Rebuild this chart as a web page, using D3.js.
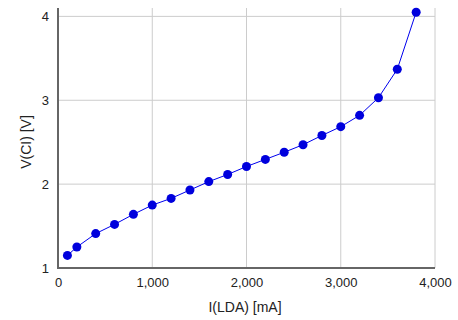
<!DOCTYPE html>
<html>
<head>
<meta charset="utf-8">
<script src="https://cdn.jsdelivr.net/npm/d3@7"></script>
<style>
  body { margin: 0; background: #fff; }
  svg { font-family: "Liberation Sans", Arial, sans-serif; }
</style>
</head>
<body>
<div id="chart"></div>
<script>
// measured current (mA) and voltage (V)
var currents = [100, 200, 400, 600, 800, 1000, 1200, 1400, 1600, 1800, 2000,
                2200, 2400, 2600, 2800, 3000, 3200, 3400, 3600, 3800];
var voltages = [1.15, 1.25, 1.41, 1.52, 1.64, 1.75, 1.83, 1.93, 2.03, 2.115, 2.21,
                2.295, 2.38, 2.47, 2.58, 2.685, 2.82, 3.03, 3.37, 4.05];
var xTicks = [0, 1000, 2000, 3000, 4000];
var yTicks = [1, 2, 3, 4];

var width = 458, height = 320;
var pLeft = 58, pRight = 435, pTop = 8, pBottom = 268;

var svg = d3.select("#chart").append("svg").attr("width", width).attr("height", height);

var x = d3.scaleLinear().domain([0, 4000]).range([pLeft, pRight]);
var y = d3.scaleLinear().domain([1, 4.1]).range([pBottom, pTop]);

// grid
svg.append("g").selectAll("line").data(xTicks.slice(1))
    .enter().append("line")
    .attr("x1", function (d) { return x(d); }).attr("x2", function (d) { return x(d); })
    .attr("y1", pTop).attr("y2", pBottom)
    .attr("stroke", "#ccc").attr("stroke-width", 1);
svg.append("g").selectAll("line").data(yTicks.slice(1))
    .enter().append("line")
    .attr("x1", pLeft).attr("x2", pRight)
    .attr("y1", function (d) { return y(d); }).attr("y2", function (d) { return y(d); })
    .attr("stroke", "#ccc").attr("stroke-width", 1);

// axes
var xAxis = svg.append("g").attr("transform", "translate(0," + pBottom + ")")
    .call(d3.axisBottom(x).tickValues(xTicks).tickSize(0).tickPadding(10).tickFormat(d3.format(",")));
var yAxis = svg.append("g").attr("transform", "translate(" + pLeft + ",0)")
    .call(d3.axisLeft(y).tickValues(yTicks).tickSize(0).tickPadding(9).tickFormat(d3.format("d")));
[xAxis, yAxis].forEach(function (a) {
    a.select(".domain").attr("stroke", "#666").attr("stroke-width", 2);
    a.selectAll("text").attr("font-size", "13px").attr("fill", "#222")
        .attr("font-family", "Liberation Sans, Arial, sans-serif");
});
xAxis.select(".domain").attr("d", "M" + (pLeft - 1) + ",0H" + pRight);
yAxis.select(".domain").attr("d", "M0," + pTop + "V" + (pBottom + 1));

// titles
svg.append("text").attr("x", 245).attr("y", 312)
    .attr("text-anchor", "middle").attr("font-size", "14px").attr("fill", "#222")
    .text("I(LDA) [mA]");
svg.append("text").attr("transform", "translate(31,142) rotate(-90)")
    .attr("text-anchor", "middle").attr("font-size", "14px").attr("fill", "#222")
    .text("V(CI) [V]");

// series
var pts = currents.map(function (c, i) { return { c: c, v: voltages[i] }; });
svg.append("path").datum(pts)
    .attr("fill", "none").attr("stroke", "#0000ee").attr("stroke-width", 1)
    .attr("d", d3.line().x(function (d) { return x(d.c); }).y(function (d) { return y(d.v); }));
svg.append("g").selectAll("circle").data(pts)
    .enter().append("circle")
    .attr("cx", function (d) { return x(d.c); }).attr("cy", function (d) { return y(d.v); })
    .attr("r", 4.5).attr("fill", "#0000dd");
</script>
</body>
</html>
